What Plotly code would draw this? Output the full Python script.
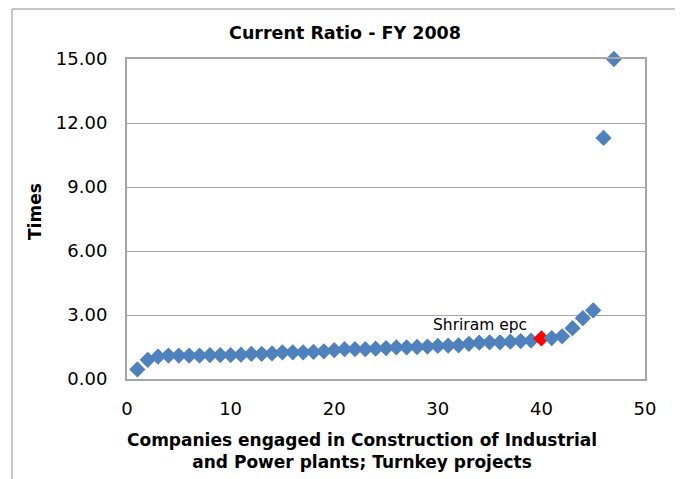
import plotly.graph_objects as go

companies = list(range(1, 48))
current_ratio = [0.45, 0.90, 1.05, 1.10, 1.10, 1.10, 1.10, 1.12, 1.12, 1.12,
                 1.14, 1.18, 1.18, 1.20, 1.25, 1.25, 1.25, 1.27, 1.30, 1.35,
                 1.40, 1.40, 1.40, 1.42, 1.45, 1.48, 1.48, 1.50, 1.52, 1.55,
                 1.57, 1.58, 1.65, 1.70, 1.72, 1.72, 1.75, 1.78, 1.80, 1.90,
                 1.92, 2.00, 2.38, 2.85, 3.22, 11.30, 15.00]
highlight_name = "Shriram epc"
highlight_index = 39  # company 40

x_ticks = [0, 10, 20, 30, 40, 50]
y_ticks = [0, 3, 6, 9, 12, 15]
y_tick_labels = ["0.00", "3.00", "6.00", "9.00", "12.00", "15.00"]
x_title = "<b>Companies engaged in Construction of Industrial<br>and Power plants; Turnkey projects</b>"
y_title = "<b>Times</b>"

blue = "#4F81BD"
grey = "#A6A6A6"

colors = [blue] * len(companies)
colors[highlight_index] = "#FF0000"

fig = go.Figure()
fig.add_trace(go.Scatter(
    x=companies, y=current_ratio, mode="markers",
    marker=dict(symbol="diamond", size=12.5, color=colors, line=dict(width=0)),
    cliponaxis=False, showlegend=False,
))

fig.add_annotation(
    x=companies[highlight_index], y=current_ratio[highlight_index],
    text=highlight_name, showarrow=False, xanchor="right", yanchor="bottom",
    xshift=-12, yshift=2,
    font=dict(family="DejaVu Sans", size=15.5, color="#000000"),
)

# page body has an 8px offset, so figure coordinates = screen - 8
W, H = 683, 479
L, R, T, B = 119, 46, 51, 108
pw, ph = W - L - R, H - T - B

# axis titles placed as annotations (Excel-like offsets)
fig.add_annotation(xref="paper", yref="paper", x=(354 - L) / pw, y=-(443 - (H - B)) / ph,
                   text=x_title, showarrow=False, xanchor="center", yanchor="middle",
                   font=dict(family="DejaVu Sans", size=17, color="#000000"))
fig.add_annotation(xref="paper", yref="paper", x=(27 - L) / pw, y=((H - B) - 204) / ph,
                   text=y_title, showarrow=False, xanchor="center", yanchor="middle",
                   textangle=-90,
                   font=dict(family="DejaVu Sans", size=17, color="#000000"))

# outer chart border
fig.add_shape(type="rect", xref="paper", yref="paper",
              x0=(4 - L) / pw, x1=(672 - L) / pw,
              y0=(H - B - 490) / ph, y1=(H - B - 1) / ph,
              line=dict(color="#8C8C8C", width=1), fillcolor="rgba(0,0,0,0)",
              layer="below")

fig.update_layout(
    width=W, height=H,
    margin=dict(l=L, r=R, t=T, b=B),
    paper_bgcolor="white", plot_bgcolor="white",
    font=dict(family="DejaVu Sans", size=18, color="#000000"),
    title=dict(text="<b>Current Ratio - FY 2008</b>", x=(337) / W, xanchor="center",
               y=1 - 25 / H, yanchor="middle",
               font=dict(family="DejaVu Sans", size=17.5)),
    xaxis=dict(range=[0, 50], tickvals=x_ticks, showgrid=False, zeroline=False,
               showline=True, linecolor=grey, linewidth=2, mirror=True,
               ticks="", ticklabelstandoff=12,
               tickfont=dict(size=18)),
    yaxis=dict(range=[0, 15], tickvals=y_ticks, ticktext=y_tick_labels,
               showgrid=True, gridcolor=grey, gridwidth=1, zeroline=False,
               showline=True, linecolor=grey, linewidth=2, mirror=True,
               ticks="", ticklabelstandoff=14,
               tickfont=dict(size=18)),
)

fig.write_html("out.html")
